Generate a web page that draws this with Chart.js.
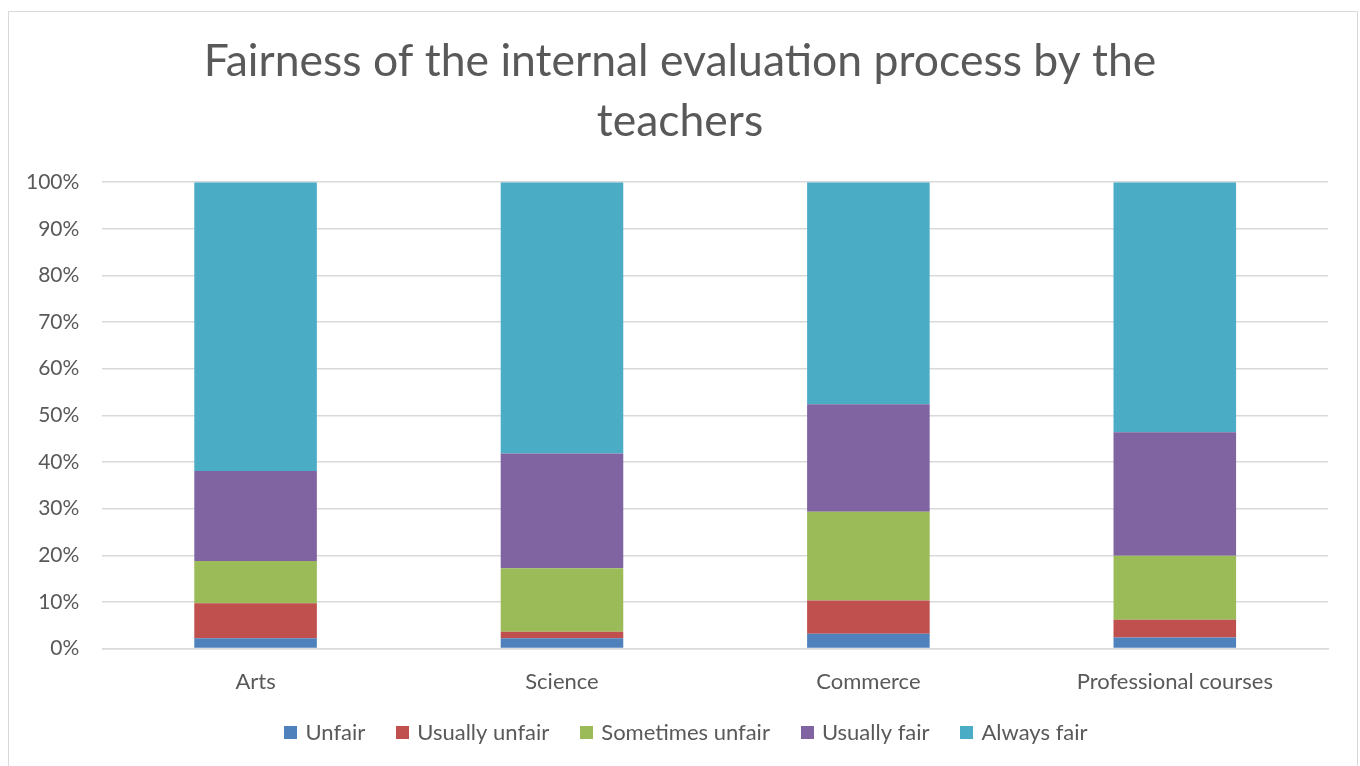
<!DOCTYPE html>
<html><head><meta charset="utf-8">
<script src="https://cdn.jsdelivr.net/npm/chart.js@4/dist/chart.umd.min.js"></script>
<style>
html,body{margin:0;padding:0;background:#fff;}
#frame{position:absolute;left:8px;top:11px;width:1350px;height:770px;border:1px solid #d9d9d9;box-sizing:border-box;}
#wrap{position:absolute;left:0;top:0;width:1360px;height:766px;}
</style></head>
<body>
<div id="frame"></div>
<div id="wrap"><canvas id="c" width="1360" height="766"></canvas></div>
<script>
const categories = ["Arts", "Science", "Commerce", "Professional courses"];
const unfair = [2.2, 2.2, 3.2, 2.4];
const usuallyUnfair = [7.5, 1.4, 7.1, 3.8];
const sometimesUnfair = [9.1, 13.6, 19.0, 13.7];
const usuallyFair = [19.3, 24.6, 23.0, 26.5];
const alwaysFair = [61.9, 58.2, 47.5, 53.6];
const seriesNames = ["Unfair", "Usually unfair", "Sometimes unfair", "Usually fair", "Always fair"];
const seriesColors = ["#4f81bd", "#c0504d", "#9bbb59", "#8064a2", "#4bacc6"];
const seriesData = [unfair, usuallyUnfair, sometimesUnfair, usuallyFair, alwaysFair];

const FONT = "Lato, 'Open Sans', sans-serif";

// Legend drawn from the chart's own datasets (Excel-like spacing)
const excelLegend = {
  id: 'excelLegend',
  afterDraw(chart, args, opts) {
    const ctx = chart.ctx;
    const items = chart.data.datasets.map(ds => ({ text: ds.label, color: ds.backgroundColor }));
    ctx.save();
    ctx.font = opts.fontSize + 'px ' + FONT;
    ctx.textBaseline = 'middle';
    ctx.textAlign = 'left';
    const widths = items.map(it => opts.box + opts.boxGap + ctx.measureText(it.text).width);
    const total = widths.reduce((a, b) => a + b, 0) + opts.itemGap * (items.length - 1);
    let x = opts.centerX - total / 2;
    const y = opts.y;
    items.forEach((it, i) => {
      ctx.fillStyle = it.color;
      ctx.fillRect(Math.round(x), Math.round(y - opts.box / 2), opts.box, opts.box);
      ctx.fillStyle = opts.color;
      ctx.fillText(it.text, x + opts.box + opts.boxGap, y + 1);
      x += widths[i] + opts.itemGap;
    });
    ctx.restore();
  }
};

new Chart(document.getElementById('c'), {
  type: 'bar',
  data: {
    labels: categories,
    datasets: seriesData.map((d, i) => ({
      label: seriesNames[i],
      data: d.map((v, j) => v / seriesData.reduce((s, arr) => s + arr[j], 0) * 100),
      backgroundColor: seriesColors[i],
      borderWidth: 0,
      categoryPercentage: 1,
      barPercentage: 0.4
    }))
  },
  plugins: [excelLegend],
  options: {
    responsive: false,
    animation: false,
    layout: { padding: { left: 3, right: 3, top: 20, bottom: 59 } },
    plugins: {
      title: {
        display: true,
        text: ["Fairness of the internal evaluation process by the", "teachers"],
        color: "#595959",
        font: { family: FONT, size: 44.5, weight: 'normal', lineHeight: 1.35 },
        padding: { top: 12, bottom: 30 }
      },
      legend: { display: false },
      excelLegend: { fontSize: 22, box: 13, boxGap: 8, itemGap: 31, centerX: 686, y: 732, color: "#595959" },
      tooltip: { enabled: false }
    },
    scales: {
      x: {
        stacked: true,
        grid: { display: false },
        border: { display: true, color: "#d9d9d9", width: 1.5 },
        ticks: { color: "#595959", font: { family: FONT, size: 22 }, padding: 12 }
      },
      y: {
        stacked: true,
        min: 0, max: 100,
        grid: { color: "#d9d9d9", lineWidth: 1.5, drawTicks: false },
        border: { display: false },
        ticks: {
          stepSize: 10,
          color: "#595959",
          font: { family: FONT, size: 21 },
          padding: 23,
          callback: v => v + "%"
        }
      },
      yRightSpacer: {
        type: 'linear',
        position: 'right',
        display: true,
        grid: { display: false, drawTicks: false },
        border: { display: false },
        ticks: { display: false },
        afterFit: s => { s.width = 29; }
      }
    }
  }
});
</script>
</body></html>
